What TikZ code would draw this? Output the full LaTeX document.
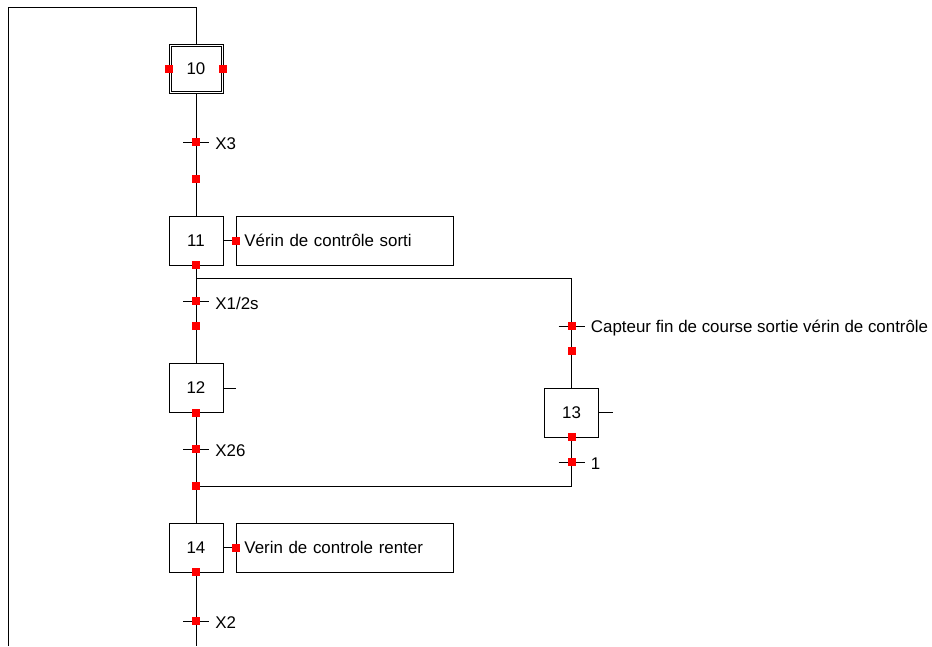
\documentclass[tikz,border=0pt]{standalone}
\usepackage{fontspec}
\setmainfont{Liberation Sans}
\usetikzlibrary{positioning}

\begin{document}
\begin{tikzpicture}[x=1pt,y=-1pt,font=\fontsize{16.9}{19}\selectfont,line width=0.9pt,
    etape/.style={draw,minimum width=54pt,minimum height=49pt,inner sep=0pt},
    action/.style={draw,anchor=west,minimum height=49pt,text width=201pt,inner xsep=8pt,align=left},
    rouge/.style={fill=red,minimum size=8pt,inner sep=0pt}]
    \useasboundingbox (0,0) rectangle (932,646);
    % steps
    \node[etape] (e10) at (196,68.5) {10};
    \draw ([shift={(2.5,2.5)}]e10.north west) rectangle ([shift={(-2.5,-2.5)}]e10.south east);
    \node[etape] (e11) at (196,240.5) {11};
    \node[etape] (e12) at (196,388) {12};
    \node[etape] (e13) at (571.5,412.5) {13};
    \node[etape] (e14) at (196,547.5) {14};
    \node[action] (a11) at (236,240.5) {V\'erin de contr\^ole sorti};
    \node[action] (a14) at (236,547.5) {Verin de controle renter};
    % points
    \coordinate (bas) at (8,646); \coordinate (coin) at (8,7); \coordinate (haut) at (196,7);
    \coordinate (fin) at (196,646);
    \coordinate (div) at (196,278); \coordinate (conv) at (196,486);
    \coordinate (t3) at (196,142); \coordinate (t12) at (196,301); \coordinate (t26) at (196,449);
    \coordinate (t2) at (196,621); \coordinate (tc) at (571.5,326); \coordinate (t1) at (571.5,462);
    % links
    \draw (bas) -- (coin) -- (haut) -- (e10.north);
    \draw (e10.south) -- (e11.north);
    \draw (e11.south) -- (e12.north);
    \draw (e12.south) -- (e14.north);
    \draw (e14.south) -- (fin);
    \draw (div) -| (e13.north);
    \draw (e13.south) |- (conv);
    \draw (e11.east) -- (a11.west);
    \draw (e14.east) -- (a14.west);
    \draw (e12.east) -- ++(13,0);
    \draw (e13.east) -- ++(14,0);
    % transitions
    \foreach \t/\txt in {t3/X3,t12/{X1/2s},t26/X26,t2/X2,t1/1,tc/{Capteur fin de course sortie v\'erin de contr\^ole}}{
      \draw ([xshift=-13pt]\t) -- ([xshift=13pt]\t);
      \node[rouge] (r\t) at (\t) {};
      \node[anchor=west,inner sep=2pt] (l\t) at ([xshift=17pt,yshift=-2pt]\t) {\txt};
    }
    % red marks
    \node[rouge] (r10w) at (e10.west) {};
    \node[rouge] (r10e) at (e10.east) {};
    \node[rouge] (r11) at (e11.south) {};
    \node[rouge] (r12) at (e12.south) {};
    \node[rouge] (r13) at (e13.south) {};
    \node[rouge] (r14) at (e14.south) {};
    \node[rouge] (ra11) at (a11.west) {};
    \node[rouge] (ra14) at (a14.west) {};
    \node[rouge] (rv11) at (196,179) {};
    \node[rouge] (rv12) at (196,326) {};
    \node[rouge] (rv13) at (571.5,351) {};
    \node[rouge] (rconv) at (conv) {};
\end{tikzpicture}
\end{document}
